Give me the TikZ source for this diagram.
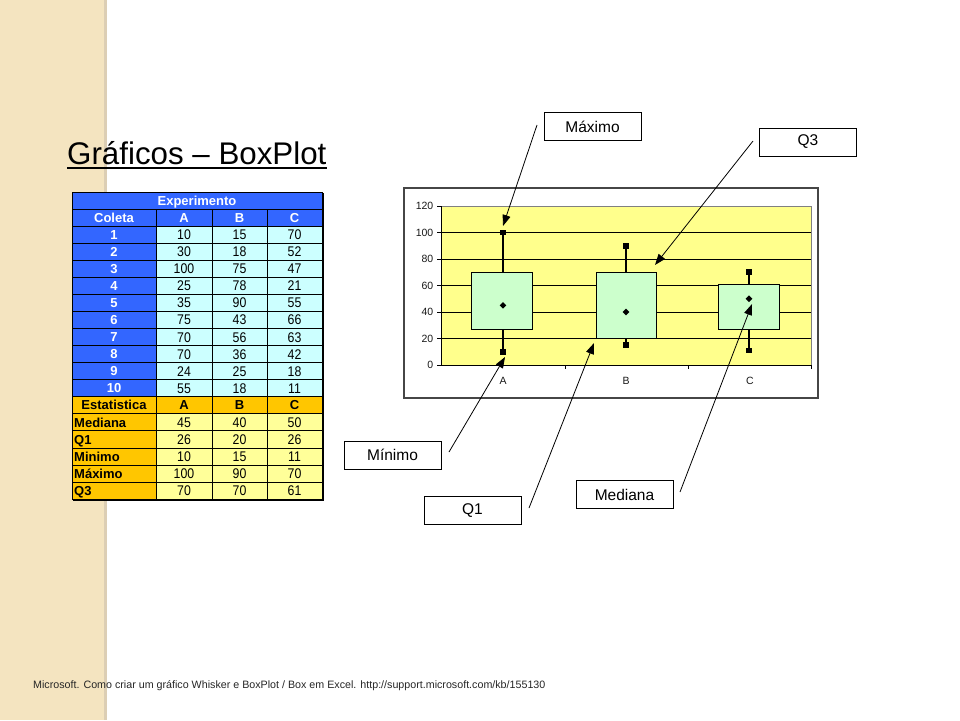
\documentclass[tikz,border=0pt]{standalone}
\usepackage{fontspec}
\setmainfont{Liberation Sans}
\newfontfamily\numfont[FakeStretch=0.88]{Liberation Sans}
\usetikzlibrary{arrows.meta}
\definecolor{stripc}{RGB}{244,228,192}
\definecolor{stripedge}{RGB}{220,206,180}
\definecolor{tblue}{RGB}{51,102,255}
\definecolor{tcyan}{RGB}{204,255,255}
\definecolor{torange}{RGB}{255,198,0}
\definecolor{tyellow}{RGB}{255,255,153}
\definecolor{plotyellow}{RGB}{255,255,140}
\definecolor{boxgreen}{RGB}{204,255,204}
\definecolor{framegray}{RGB}{70,70,70}
\tikzset{
  hcell/.style={inner sep=0, anchor=base, text=white, font=\fontsize{13}{13}\selectfont\bfseries},
  dcell/.style={inner sep=0, anchor=base, text=black, font=\numfont\fontsize{14}{14}\selectfont},
  scell/.style={inner sep=0, anchor=base, text=black, font=\fontsize{13}{13}\selectfont\bfseries},
  callout/.style={draw=black, fill=white, line width=0.8, minimum width=97, minimum height=28, inner sep=0, font=\fontsize{15.5}{16}\selectfont},
  pointer/.style={line width=0.8, -{Triangle[length=11pt,width=8pt]}},
  axlab/.style={inner sep=0, font=\fontsize{10.5}{10.5}\selectfont, text=black!90},
  bp/.style={draw=black, line width=1, fill=boxgreen},
}
\begin{document}
\begin{tikzpicture}[x=1pt,y=-1pt]
\useasboundingbox (0,0) rectangle (960,720);
\fill[white] (0,0) rectangle (960,720);
% left strip
\fill[stripc] (0,0) rectangle (104,720);
\fill[stripedge] (104,0) rectangle (107,720);

% title
\node[anchor=base west, inner sep=0, font=\fontsize{31.3}{31}\selectfont] (title) at (67,164) {Gráficos – BoxPlot};
\draw[line width=1.8] ([yshift=-4pt]title.base west) -- ([yshift=-4pt]title.base east);

% ---------- table ----------
\def\rh{17.06}
\pgfmathsetmacro\ya{192}
\pgfmathsetmacro\yb{192+2*\rh}
\pgfmathsetmacro\yc{192+12*\rh}
\pgfmathsetmacro\yd{192+13*\rh}
\pgfmathsetmacro\ye{192+18*\rh}
\fill[tblue] (72,\ya) rectangle (322,\yb);
\fill[tblue] (72,\yb) rectangle (156,\yc);
\fill[tcyan] (156,\yb) rectangle (322,\yc);
\fill[torange] (72,\yc) rectangle (322,\yd);
\fill[torange] (72,\yd) rectangle (156,\ye);
\fill[tyellow] (156,\yd) rectangle (322,\ye);
\foreach \k in {1,...,17}{
  \draw[line width=0.8] (72,{192+\k*\rh}) -- (322,{192+\k*\rh});
}
\foreach \xx in {156,212,267}{
  \draw[line width=0.8] (\xx,{192+\rh}) -- (\xx,\ye);
}
\draw[line width=1] (72,\ya) rectangle (322,\ye);
\draw[line width=1.2] (323,193) -- (323,500) -- (73,500);

\node[hcell] (thexp) at (197,{192+0.5*\rh+4.7}) {Experimento};
\node[hcell] (thcol) at (114,{192+1.5*\rh+4.7}) {Coleta};
\node[hcell] (tha) at (184,{192+1.5*\rh+4.7}) {A};
\node[hcell] (thb) at (239.5,{192+1.5*\rh+4.7}) {B};
\node[hcell] (thc) at (294.5,{192+1.5*\rh+4.7}) {C};
\foreach \lab/\va/\vb/\vc [count=\i] in {1/10/15/70,2/30/18/52,3/100/75/47,4/25/78/21,5/35/90/55,6/75/43/66,7/70/56/63,8/70/36/42,9/24/25/18,10/55/18/11}{
  \pgfmathsetmacro\yy{192+(\i+1.5)*\rh}
  \node[hcell] (r\i c0) at (114,\yy+4.7) {\lab};
  \node[dcell] (r\i c1) at (184,\yy+5) {\va};
  \node[dcell] (r\i c2) at (239.5,\yy+5) {\vb};
  \node[dcell] (r\i c3) at (294.5,\yy+5) {\vc};
}
\node[scell] (tsest) at (114,{192+12.5*\rh+4.7}) {Estatistica};
\node[scell] (tsa) at (184,{192+12.5*\rh+4.7}) {A};
\node[scell] (tsb) at (239.5,{192+12.5*\rh+4.7}) {B};
\node[scell] (tsc) at (294.5,{192+12.5*\rh+4.7}) {C};
\foreach \lab/\va/\vb/\vc [count=\i] in {Mediana/45/40/50,Q1/26/20/26,Minimo/10/15/11,Máximo/100/90/70,Q3/70/70/61}{
  \pgfmathsetmacro\yy{192+(\i+12.5)*\rh}
  \node[scell, anchor=base west] (s\i c0) at (74,\yy+4.7) {\lab};
  \node[dcell] (s\i c1) at (184,\yy+5) {\va};
  \node[dcell] (s\i c2) at (239.5,\yy+5) {\vb};
  \node[dcell] (s\i c3) at (294.5,\yy+5) {\vc};
}

% ---------- chart ----------
\draw[framegray, line width=1.3, fill=white] (404,188) rectangle (818,398);
\fill[plotyellow] (441,206) rectangle (811,365);
\draw[gray, line width=0.8] (441,206) -- (811,206) -- (811,365);
\foreach \v in {20,40,60,80,100}{
  \draw[black, line width=1] (441,{365-1.325*\v}) -- (811,{365-1.325*\v});
}
\draw[black, line width=1] (441,206) -- (441,365) -- (811,365);
\foreach \v in {0,20,40,60,80,100,120}{
  \draw[black, line width=1] (437,{365-1.325*\v}) -- (441,{365-1.325*\v});
  \node[axlab, anchor=east] (yl\v) at (433.5,{365-1.325*\v}) {\v};
}
\foreach \xx in {565,688,811}{
  \draw[black, line width=1] (\xx,365) -- (\xx,369);
}
\node[axlab] (xla) at (503,381) {A};
\node[axlab] (xlb) at (626,381) {B};
\node[axlab] (xlc) at (750,381) {C};

% boxes: center / left / right / min / q1 / med / q3 / max
\foreach \cx/\xl/\xr/\mn/\qa/\md/\qc/\mx in {503/471/532/10/27/45/70/100, 626/596/656/15/20/40/70/90, 749/718/779/11/27/50/61/70}{
  \pgfmathsetmacro\ymx{365-1.325*\mx}
  \pgfmathsetmacro\ymn{365-1.325*\mn}
  \pgfmathsetmacro\ymd{365-1.325*\md}
  \draw[black, line width=1.3] (\cx,\ymx) -- (\cx,\ymn);
  \draw[bp] (\xl,{365-1.325*\qa}) rectangle (\xr,{365-1.325*\qc});
  \fill[black] (\cx-2.8,\ymx-2.8) rectangle (\cx+2.8,\ymx+2.8);
  \fill[black] (\cx-2.8,\ymn-2.8) rectangle (\cx+2.8,\ymn+2.8);
  \fill[black] (\cx,\ymd-3.3) -- (\cx+3.3,\ymd) -- (\cx,\ymd+3.3) -- (\cx-3.3,\ymd) -- cycle;
}

% ---------- callouts ----------
\node[callout] (lmax) at (592.5,126.5) {Máximo};
\node[callout] (lq3) at (808,142) {Q3};
\node[callout] (lmin) at (392.5,455) {Mínimo};
\node[callout] (lq1) at (472.5,510.5) {Q1};
\node[callout] (lmed) at (624.5,494.5) {Mediana};

\coordinate (smax) at (537,125);
\coordinate (tmax) at (503,226);
\coordinate (sq3) at (753,141);
\coordinate (tq3) at (655,265);
\coordinate (smin) at (449,452);
\coordinate (tmin) at (505,357);
\coordinate (sq1) at (529,508);
\coordinate (tq1) at (594,343);
\coordinate (smed) at (680,492);
\coordinate (tmed) at (752,304);
\draw[pointer] (smax) -- (tmax);
\draw[pointer] (sq3) -- (tq3);
\draw[pointer] (smin) -- (tmin);
\draw[pointer] (sq1) -- (tq1);
\draw[pointer] (smed) -- (tmed);

% footer
\node[anchor=base west, inner sep=0, font=\fontsize{10.7}{11}\selectfont, text=black!85] (foot) at (33,688) {Microsoft. Como criar um gráfico Whisker e BoxPlot / Box em Excel. http://support.microsoft.com/kb/155130};
\end{tikzpicture}
\end{document}
